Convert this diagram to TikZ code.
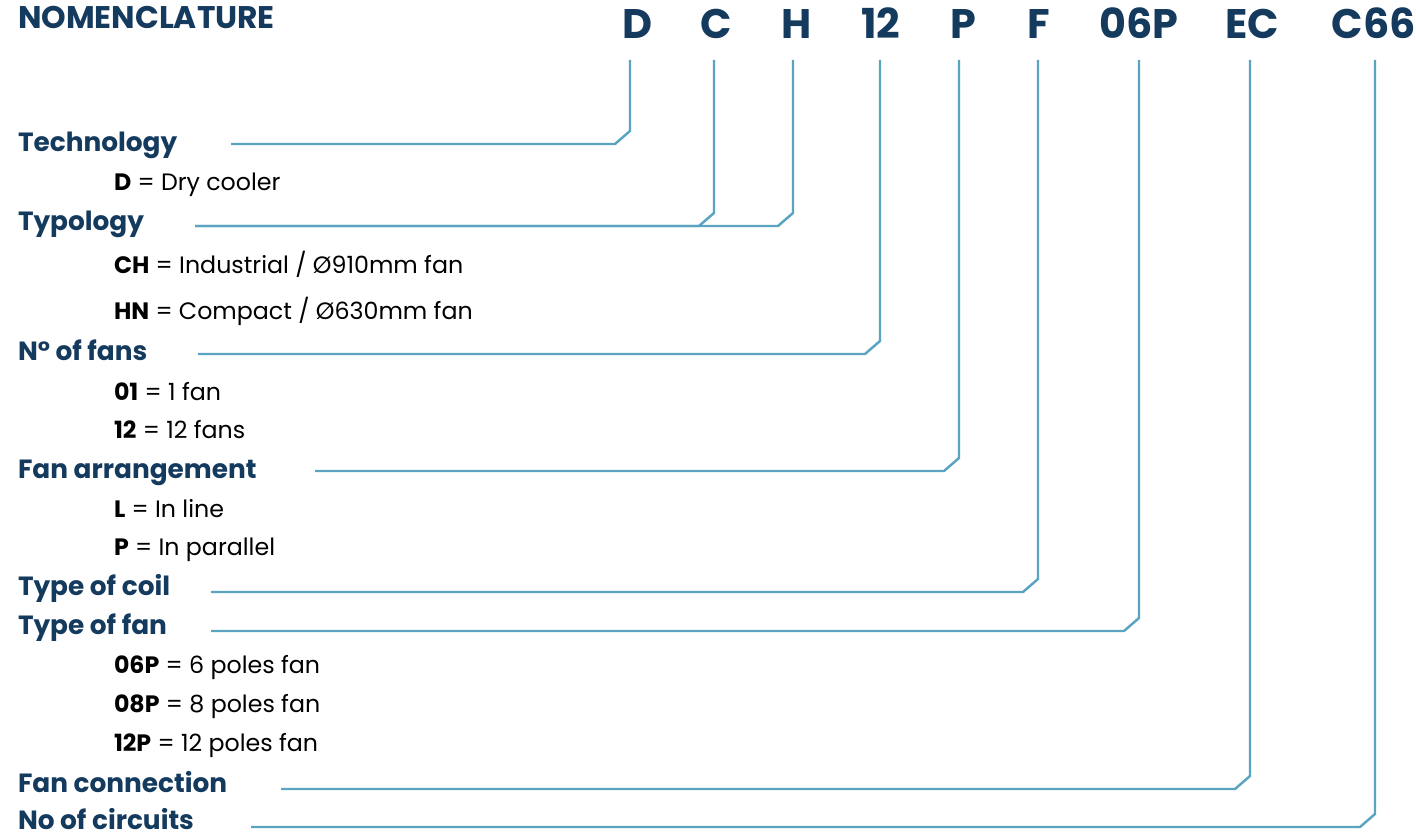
\documentclass[tikz,border=0pt]{standalone}
\usepackage{fontspec}
\setmainfont{Poppins}
\usepackage{xcolor}
\usepackage{tikz}
\usetikzlibrary{calc,positioning}
\definecolor{navy}{HTML}{143A5E}
\definecolor{leadblue}{HTML}{5AA4C1}

\begin{document}
\begin{tikzpicture}[
    x=0.02cm, y=-0.02cm,
    every node/.style={inner sep=0pt, outer sep=0pt},
    code/.style={anchor=base, font=\fontsize{23.5}{26}\selectfont\bfseries, text=navy},
    head/.style={anchor=base west, font=\fontsize{15}{18}\selectfont\bfseries, text=navy},
    item/.style={anchor=base west, font=\fontsize{13.5}{16}\selectfont},
    lead/.style={draw=leadblue, line width=1.4pt}]

  \useasboundingbox (0,0) rectangle (1416,834);

  % model code
  \node[head, font=\fontsize{17.8}{20}\selectfont\bfseries] (title) at (18,29) {NOMENCLATURE};
  \node[code] (cD) at (637,39) {D};
  \node[code] (cC) at (716,39) {C};
  \node[code] (cH) at (797,39) {H};
  \node[code] (c12) at (881,39) {12};
  \node[code] (cP) at (963,39) {P};
  \node[code] (cF) at (1039,39) {F};
  \node[code] (c06P) at (1139,39) {06P};
  \node[code] (cEC) at (1252,39) {EC};
  \node[code] (cC66) at (1374,39) {C66};

  % tops of the leads
  \coordinate (tD) at (630,60);
  \coordinate (tC) at (714,60);
  \coordinate (tH) at (793,60);
  \coordinate (t12) at (880,60);
  \coordinate (tP) at (959,60);
  \coordinate (tF) at (1038,60);
  \coordinate (t06P) at (1139,60);
  \coordinate (tEC) at (1250,60);
  \coordinate (tC66) at (1375,60);

  % headings and values
  \node[head] (hTech) at (18,152) {Technology};
  \node[item] (iD) at (114,191) {\textbf{D} = Dry cooler};
  \node[head] (hTyp) at (18,231) {Typology};
  \node[item] (iCH) at (114,274) {\textbf{CH} = Industrial / Ø910mm fan};
  \node[item] (iHN) at (114,320) {\textbf{HN} = Compact / Ø630mm fan};
  \node[head] (hFans) at (18,360) {N° of fans};
  \node[item] (i01) at (114,400) {\textbf{01} = 1 fan};
  \node[item] (i12) at (114,438) {\textbf{12} = 12 fans};
  \node[head] (hArr) at (18,478) {Fan arrangement};
  \node[item] (iL) at (114,517) {\textbf{L} = In line};
  \node[item] (iP) at (114,555) {\textbf{P} = In parallel};
  \node[head] (hCoil) at (18,595) {Type of coil};
  \node[head] (hFan) at (18,634) {Type of fan};
  \node[item] (i06P) at (114,673) {\textbf{06P} = 6 poles fan};
  \node[item] (i08P) at (114,712) {\textbf{08P} = 8 poles fan};
  \node[item] (i12P) at (114,751) {\textbf{12P} = 12 poles fan};
  \node[head] (hConn) at (18,792) {Fan connection};
  \node[head] (hCirc) at (18,829) {No of circuits};

  % starts of the leads
  \coordinate (sTech) at (231,144);
  \coordinate (sTyp) at (195,226);
  \coordinate (sFans) at (198,354);
  \coordinate (sArr) at (315,471);
  \coordinate (sCoil) at (211,592);
  \coordinate (sFan) at (211,631);
  \coordinate (sConn) at (281,789);
  \coordinate (sCirc) at (251,827);

  \foreach \s/\t in {sTech/tD, sTyp/tC, sTyp/tH, sFans/t12, sArr/tP,
                     sCoil/tF, sFan/t06P, sConn/tEC, sCirc/tC66}
    \draw[lead] (\s) -- ($(\t |- \s)+(-15,0)$) -- ($(\t |- \s)+(0,-13)$) -- (\t);
\end{tikzpicture}
\end{document}
